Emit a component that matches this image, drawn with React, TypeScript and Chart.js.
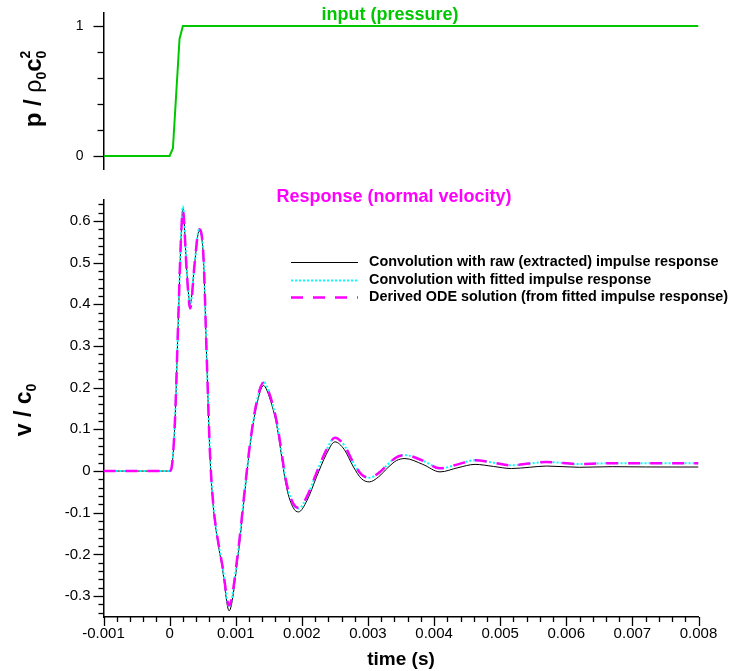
import React, { useEffect, useRef } from "react";
import { Chart, registerables } from "chart.js";

Chart.register(...registerables);

const FONT = '"Liberation Sans", Arial, Helvetica, sans-serif';

// ---------------- data ----------------
const inputTime = [-0.001, 0, 0.00005, 0.00015, 0.0002, 0.008];
const inputPressure = [0, 0, 0.06, 0.9, 1, 1];

const responseTime = [
  -0.001, 0, 0.00003, 0.00008, 0.00013, 0.00017, 0.0002, 0.00026, 0.00031, 0.00038,
  0.000445, 0.00051, 0.00056, 0.00061, 0.00066, 0.00071, 0.0008, 0.0009, 0.00103, 0.00114,
  0.00122, 0.00132, 0.00142, 0.00152, 0.00162, 0.00177, 0.00187, 0.00195, 0.00208, 0.00222,
  0.00237, 0.0025, 0.00264, 0.00278, 0.0029, 0.00302, 0.00316, 0.0033, 0.00343, 0.00356,
  0.00383, 0.00409, 0.00436, 0.00462, 0.0049, 0.00517, 0.00544, 0.0057, 0.0062, 0.0067,
  0.0072, 0.0076, 0.008,
];

const rawConvolution = [
  0, 0, 0.008, 0.115, 0.355, 0.545, 0.63, 0.48, 0.4, 0.5,
  0.575, 0.515, 0.275, 0.04, -0.085, -0.15, -0.235, -0.335, -0.21, -0.048,
  0.065, 0.16, 0.205, 0.172, 0.11, -0.04, -0.088, -0.098, -0.07, -0.015,
  0.04, 0.07, 0.052, 0.01, -0.018, -0.026, -0.014, 0.008, 0.025, 0.03,
  0.016, -0.002, 0.008, 0.016, 0.011, 0.006, 0.009, 0.012, 0.009, 0.0105,
  0.0098, 0.0097, 0.0097,
];

const fittedConvolution = [
  0, 0, 0.008, 0.118, 0.36, 0.552, 0.635, 0.478, 0.395, 0.5,
  0.58, 0.52, 0.28, 0.045, -0.08, -0.145, -0.228, -0.325, -0.2, -0.04,
  0.07, 0.168, 0.214, 0.181, 0.118, -0.03, -0.079, -0.09, -0.061, -0.005,
  0.05, 0.08, 0.062, 0.02, -0.008, -0.016, -0.005, 0.016, 0.033, 0.038,
  0.025, 0.0065, 0.016, 0.026, 0.02, 0.0137, 0.018, 0.0217, 0.0168, 0.019,
  0.0185, 0.0186, 0.0185,
];

const odeSolution = [
  0, 0, 0.008, 0.118, 0.36, 0.55, 0.625, 0.475, 0.39, 0.5,
  0.58, 0.52, 0.28, 0.045, -0.08, -0.145, -0.228, -0.322, -0.2, -0.04,
  0.07, 0.168, 0.212, 0.18, 0.118, -0.03, -0.078, -0.088, -0.06, -0.005,
  0.05, 0.08, 0.062, 0.02, -0.008, -0.016, -0.005, 0.016, 0.033, 0.038,
  0.025, 0.0065, 0.016, 0.026, 0.02, 0.0137, 0.018, 0.0217, 0.0168, 0.019,
  0.0185, 0.0186, 0.0185,
];

const seriesLabels = [
  "Convolution with raw (extracted) impulse response",
  "Convolution with fitted impulse response",
  "Derived ODE solution (from fitted impulse response)",
];

const timeTickValues = [-0.001, 0, 0.001, 0.002, 0.003, 0.004, 0.005, 0.006, 0.007, 0.008];
const timeTickLabels = ["-0.001", "0", "0.001", "0.002", "0.003", "0.004", "0.005", "0.006", "0.007", "0.008"];
const velocityTickValues = [-0.3, -0.2, -0.1, 0, 0.1, 0.2, 0.3, 0.4, 0.5, 0.6];
const velocityTickLabels = ["-0.3", "-0.2", "-0.1", "0", "0.1", "0.2", "0.3", "0.4", "0.5", "0.6"];
const pressureTickValues = [0, 1];
const pressureTickLabels = ["0", "1"];

const topTitle = "input (pressure)";
const bottomTitle = "Response (normal velocity)";
const xAxisTitle = "time (s)";

// ---------------- helpers ----------------
type TickCfg = { id: string; major: number[]; minor: number; majorLen: number; minorLen: number; horizontal: boolean };

function ticksPlugin(cfgs: TickCfg[]) {
  return {
    id: "axisTicks",
    afterDraw(chart: any) {
      const ctx = chart.ctx as CanvasRenderingContext2D;
      const area = chart.chartArea;
      ctx.save();
      ctx.strokeStyle = "#000";
      ctx.lineWidth = 1.3;
      for (const c of cfgs) {
        const scale = chart.scales[c.id];
        const k0 = Math.ceil(scale.min / c.minor - 1e-6);
        const k1 = Math.floor(scale.max / c.minor + 1e-6);
        for (let k = k0; k <= k1; k++) {
          const v = k * c.minor;
          const isMajor = c.major.some((m) => Math.abs(m - v) < c.minor / 10);
          const len = isMajor ? c.majorLen : c.minorLen;
          const p = Math.round(scale.getPixelForValue(v)) + 0.5;
          ctx.beginPath();
          if (c.horizontal) {
            ctx.moveTo(p, area.bottom);
            ctx.lineTo(p, area.bottom + len);
          } else {
            ctx.moveTo(area.left, p);
            ctx.lineTo(area.left - len, p);
          }
          ctx.stroke();
        }
      }
      ctx.restore();
    },
  };
}

type Piece = { text: string; font: string; shift?: number; overlay?: boolean };

function drawVerticalRich(ctx: CanvasRenderingContext2D, pieces: Piece[], baseX: number, centerY: number) {
  ctx.save();
  let cursor = 0;
  let prevStart = 0;
  const starts: number[] = [];
  pieces.forEach((p) => {
    ctx.font = p.font;
    const w = ctx.measureText(p.text).width;
    const start = p.overlay ? prevStart : cursor;
    starts.push(start);
    cursor = Math.max(cursor, start + w);
    prevStart = start;
  });
  const total = cursor;
  ctx.translate(baseX, centerY);
  ctx.rotate(-Math.PI / 2);
  ctx.fillStyle = "#000";
  ctx.textAlign = "left";
  ctx.textBaseline = "alphabetic";
  pieces.forEach((p, i) => {
    ctx.font = p.font;
    ctx.fillText(p.text, -total / 2 + starts[i], p.shift || 0);
  });
  ctx.restore();
}

function topDecor() {
  return {
    id: "topDecor",
    afterDraw(chart: any) {
      const ctx = chart.ctx as CanvasRenderingContext2D;
      const a = chart.chartArea;
      ctx.save();
      ctx.font = `bold 18px ${FONT}`;
      ctx.fillStyle = "#00c800";
      ctx.textAlign = "center";
      ctx.textBaseline = "middle";
      ctx.fillText(topTitle, (a.left + a.right) / 2 - 11, a.top + 2);
      ctx.restore();
      drawVerticalRich(
        ctx,
        [
          { text: "p / ", font: `bold 24px ${FONT}` },
          { text: "ρ", font: `23px ${FONT}` },
          { text: "0", font: `bold 14px ${FONT}`, shift: 5 },
          { text: "c", font: `bold 24px ${FONT}` },
          { text: "0", font: `bold 14px ${FONT}`, shift: 5 },
          { text: "2", font: `bold 14px ${FONT}`, shift: -11, overlay: true },
        ],
        41,
        89
      );
    },
  };
}

function bottomDecor() {
  return {
    id: "bottomDecor",
    afterDraw(chart: any) {
      const ctx = chart.ctx as CanvasRenderingContext2D;
      const a = chart.chartArea;
      ctx.save();
      ctx.font = `bold 18px ${FONT}`;
      ctx.fillStyle = "#ff00ff";
      ctx.textAlign = "center";
      ctx.textBaseline = "middle";
      ctx.fillText(bottomTitle, (a.left + a.right) / 2 - 7, a.top - 3);

      // legend
      const x0 = a.left + 187.5;
      const lineLen = 67;
      ctx.font = `bold 14.4px ${FONT}`;
      ctx.textAlign = "left";
      ctx.fillStyle = "#000";
      chart.data.datasets.forEach((ds: any, i: number) => {
        const y = Math.round(a.top + 61.7 + i * 17.8) + 0.5;
        ctx.save();
        ctx.strokeStyle = ds.borderColor;
        ctx.lineWidth = ds.borderWidth;
        ctx.setLineDash(ds.borderDash || []);
        ctx.beginPath();
        ctx.moveTo(x0, y);
        ctx.lineTo(x0 + lineLen, y);
        ctx.stroke();
        ctx.restore();
        ctx.fillText(ds.label, x0 + 78, y);
      });
      ctx.restore();

      drawVerticalRich(
        ctx,
        [
          { text: "v / c", font: `bold 23px ${FONT}` },
          { text: "0", font: `bold 14px ${FONT}`, shift: 5 },
        ],
        31,
        230
      );
    },
  };
}

const yAfterFit = (s: any) => {
  s.width = 103.5;
  s.paddingTop = 0;
  s.paddingBottom = 0;
};

export default function App() {
  const topRef = useRef<HTMLCanvasElement | null>(null);
  const botRef = useRef<HTMLCanvasElement | null>(null);

  useEffect(() => {
    const topChart = new Chart(topRef.current as HTMLCanvasElement, {
      type: "line",
      data: {
        datasets: [
          {
            label: topTitle,
            data: inputTime.map((t, i) => ({ x: t, y: inputPressure[i] })),
            borderColor: "#00c800",
            borderWidth: 2,
            pointRadius: 0,
            tension: 0,
            fill: false,
          },
        ],
      },
      options: {
        animation: false,
        responsive: false,
        devicePixelRatio: 1,
        layout: { padding: { left: 0, top: 13, right: 32.5, bottom: 11 } },
        plugins: { legend: { display: false }, tooltip: { enabled: false }, title: { display: false } },
        scales: {
          x: { type: "linear", min: -0.001, max: 0.008, display: false },
          y: {
            type: "linear",
            min: -0.1,
            max: 1.1,
            afterBuildTicks: (s: any) => {
              s.ticks = pressureTickValues.map((value) => ({ value }));
            },
            afterFit: yAfterFit,
            ticks: {
              callback: (_v: any, i: number) => pressureTickLabels[i],
              font: { family: FONT, size: 14 },
              color: "#000",
              padding: 20,
              autoSkip: false,
            },
            grid: { display: false, drawTicks: false },
            border: { display: true, color: "#000", width: 1.5 },
          },
        },
      },
      plugins: [
        ticksPlugin([{ id: "y", major: pressureTickValues, minor: 0.2, majorLen: 10, minorLen: 6, horizontal: false }]),
        topDecor(),
      ],
    } as any);

    const dsRaw = {
      label: seriesLabels[0],
      data: responseTime.map((t, i) => ({ x: t, y: rawConvolution[i] })),
      borderColor: "#000000",
      borderWidth: 1,
      borderDash: [],
      order: 3,
    };
    const dsFit = {
      label: seriesLabels[1],
      data: responseTime.map((t, i) => ({ x: t, y: fittedConvolution[i] })),
      borderColor: "#00ffff",
      borderWidth: 2,
      borderDash: [2, 2],
      order: 2,
    };
    const dsOde = {
      label: seriesLabels[2],
      data: responseTime.map((t, i) => ({ x: t, y: odeSolution[i] })),
      borderColor: "#ff00ff",
      borderWidth: 2.5,
      borderDash: [12, 10],
      order: 1,
    };

    const botChart = new Chart(botRef.current as HTMLCanvasElement, {
      type: "line",
      data: { datasets: [dsRaw, dsFit, dsOde] },
      options: {
        animation: false,
        responsive: false,
        devicePixelRatio: 1,
        layout: { padding: { left: 0, top: 20, right: 32.5, bottom: 0 } },
        elements: { point: { radius: 0 }, line: { cubicInterpolationMode: "monotone", fill: false } },
        plugins: { legend: { display: false }, tooltip: { enabled: false }, title: { display: false } },
        scales: {
          x: {
            type: "linear",
            min: -0.001,
            max: 0.008,
            afterBuildTicks: (s: any) => {
              s.ticks = timeTickValues.map((value) => ({ value }));
            },
            afterFit: (s: any) => {
              s.height = 54;
            },
            ticks: {
              callback: (_v: any, i: number) => timeTickLabels[i],
              font: { family: FONT, size: 15 },
              color: "#000",
              padding: 8,
              maxRotation: 0,
              autoSkip: false,
            },
            grid: { display: false, drawTicks: false },
            border: { display: true, color: "#000", width: 1.5 },
            title: {
              display: true,
              text: xAxisTitle,
              font: { family: FONT, size: 19, weight: "bold" },
              color: "#000",
              padding: 0,
            },
          },
          y: {
            type: "linear",
            min: -0.35,
            max: 0.65,
            afterBuildTicks: (s: any) => {
              s.ticks = velocityTickValues.map((value) => ({ value }));
            },
            afterFit: yAfterFit,
            ticks: {
              callback: (_v: any, i: number) => velocityTickLabels[i],
              font: { family: FONT, size: 15 },
              color: "#000",
              padding: 13,
              autoSkip: false,
            },
            grid: { display: false, drawTicks: false },
            border: { display: true, color: "#000", width: 1.5 },
          },
        },
      },
      plugins: [
        ticksPlugin([
          { id: "x", major: timeTickValues, minor: 0.0002, majorLen: 9, minorLen: 5, horizontal: true },
          { id: "y", major: velocityTickValues, minor: 0.02, majorLen: 10, minorLen: 5, horizontal: false },
        ]),
        bottomDecor(),
      ],
    } as any);

    return () => {
      topChart.destroy();
      botChart.destroy();
    };
  }, []);

  return (
    <div style={{ position: "fixed", left: 0, top: 0, width: 731, height: 671, background: "#fff" }}>
      <canvas ref={topRef} width={731} height={180} style={{ position: "absolute", left: 0, top: 0, display: "block" }} />
      <canvas ref={botRef} width={731} height={491} style={{ position: "absolute", left: 0, top: 180, display: "block" }} />
    </div>
  );
}
